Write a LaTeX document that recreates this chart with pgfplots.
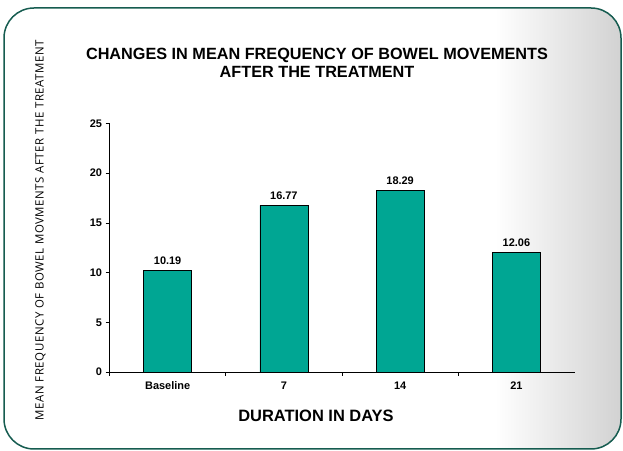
\documentclass[border=0pt]{standalone}
\usepackage{pgfplots}
\pgfplotsset{compat=1.18}
\usepackage{fontspec}
\setmainfont{Liberation Sans}
\newfontfamily\labelfont[LetterSpace=5]{Open Sans}
\definecolor{barteal}{RGB}{0,166,147}
\definecolor{frameteal}{RGB}{22,92,80}

\begin{document}
\begin{tikzpicture}[x=1bp,y=1bp]
\useasboundingbox (0,0) rectangle (623,451);
% frame with grey fade on the right
\begin{scope}
  \clip[rounded corners=30bp] (4,2) rectangle (621,443);
  \shade[left color=white,right color=black!18] (495,0) rectangle (623,451);
\end{scope}
\draw[frameteal,line width=1.5bp,rounded corners=30bp] (4,2) rectangle (621,443);

\begin{axis}[
    at={(109.5bp,79bp)}, anchor=south west,
    scale only axis, width=465bp, height=248.5bp,
    ybar, bar width=48bp,
    ymin=0, ymax=25, xmin=-0.5, xmax=3.5,
    axis lines*=left,
    axis line style={line width=0.6bp},
    tick align=outside,
    xtick={0,1,2,3},
    xticklabels={Baseline,7,14,21},
    major x tick style={draw=none},
    minor xtick={-0.5,0.5,1.5,2.5},
    minor tick length=4bp,
    major tick length=4bp,
    ytick={0,5,...,25},
    tick style={black,line width=0.6bp},
    ticklabel style={font=\bfseries\fontsize{11}{12}\selectfont},
    xticklabel style={yshift=-2bp},
    /pgf/number format/assume math mode=true,
    nodes near coords={\pgfmathprintnumber[fixed,fixed zerofill,precision=2,assume math mode=true]{\pgfplotspointmeta}},
    nodes near coords style={font=\bfseries\fontsize{11}{12}\selectfont, yshift=2bp},
  ]
\addplot[fill=barteal, draw=black, line width=0.6bp] coordinates {(0,10.19) (1,16.77) (2,18.29) (3,12.06)};
\end{axis}

\node[font=\bfseries\fontsize{16.3}{17.5}\selectfont, align=center] at (317,388)
  {CHANGES IN MEAN FREQUENCY OF BOWEL MOVEMENTS\\AFTER THE TREATMENT};
\node[font=\bfseries\fontsize{16.5}{18}\selectfont] at (316,35.5) {DURATION IN DAYS};
\node[font=\labelfont\fontsize{11.5}{13}\selectfont, rotate=90] at (40.5,221)
  {MEAN FREQUENCY OF BOWEL MOVMENTS AFTER THE TREATMENT};
\end{tikzpicture}
\end{document}
